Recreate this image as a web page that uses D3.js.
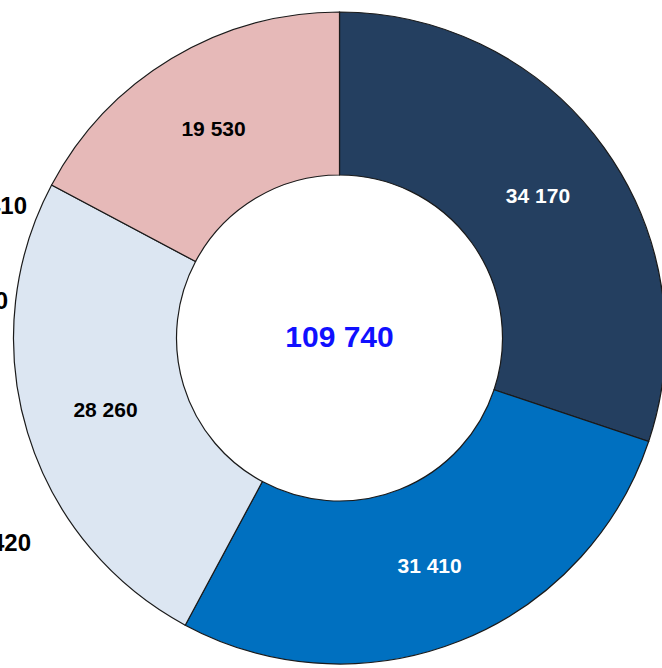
<!DOCTYPE html>
<html>
<head>
<meta charset="utf-8">
<title>Donut</title>
<script src="https://cdn.jsdelivr.net/npm/d3@7"></script>
<style>
* { margin: 0; padding: 0; }
body { background: #fff; width: 662px; height: 668px; overflow: hidden; }
svg text { font-family: "Liberation Sans", Arial, sans-serif; font-weight: bold; }
</style>
</head>
<body>
<svg id="chart" width="662" height="668"></svg>
<script>
// slice values, clockwise from 12 o'clock
var values = [34170, 31410, 28260, 19530];
var labels = ["34 170", "31 410", "28 260", "19 530"];
var colors = ["#243f60", "#0070c0", "#dce6f2", "#e6b9b8"];
var labelColors = ["#ffffff", "#ffffff", "#000000", "#000000"];
var totalLabel = "109 740";

// labels of a neighbouring chart, cut by the left edge
var sideLabels = ["4 410", "2 460", "1 420"];
var sideY = [205, 300, 542];
var sideRight = [27, 8, 31];

var cx = 339.5, cy = 338, rOuter = 326, rInner = 163;

var svg = d3.select("#chart");
var g = svg.append("g").attr("transform", "translate(" + cx + "," + cy + ")");

var pie = d3.pie().sort(null).value(function(d) { return d; });
var arc = d3.arc().innerRadius(rInner).outerRadius(rOuter);
var arcs = pie(values);

g.selectAll("path.slice")
  .data(arcs)
  .enter().append("path")
  .attr("class", "slice")
  .attr("d", arc)
  .attr("fill", function(d, i) { return colors[i]; })
  .attr("stroke", "#1a1a1a")
  .attr("stroke-width", 1.2);

g.selectAll("text.val")
  .data(arcs)
  .enter().append("text")
  .attr("class", "val")
  .attr("transform", function(d) { var c = arc.centroid(d); return "translate(" + c[0] + "," + c[1] + ")"; })
  .attr("text-anchor", "middle")
  .attr("dy", "0.36em")
  .attr("font-size", 21)
  .attr("fill", function(d, i) { return labelColors[i]; })
  .text(function(d, i) { return labels[i]; });

g.append("text")
  .attr("text-anchor", "middle")
  .attr("y", -2)
  .attr("dy", "0.36em")
  .attr("font-size", 30)
  .attr("fill", "#1010ff")
  .text(totalLabel);

svg.selectAll("text.side")
  .data(sideLabels)
  .enter().append("text")
  .attr("class", "side")
  .attr("x", function(d, i) { return sideRight[i]; })
  .attr("y", function(d, i) { return sideY[i]; })
  .attr("dy", "0.36em")
  .attr("text-anchor", "end")
  .attr("font-size", 24)
  .attr("fill", "#000")
  .text(function(d) { return d; });
</script>
</body>
</html>
